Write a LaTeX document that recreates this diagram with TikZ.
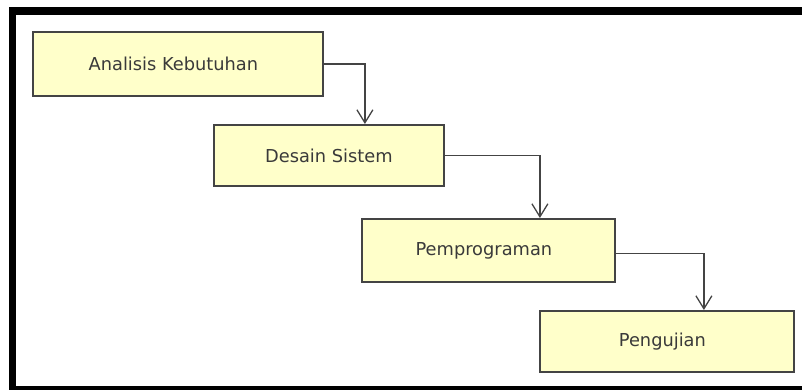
\documentclass[tikz,border=0pt]{standalone}
\usepackage{fontspec}
\setmainfont{DejaVu Sans}
\usetikzlibrary{arrows.meta}
\definecolor{boxfill}{HTML}{FFFFCA}
\definecolor{boxline}{HTML}{444444}
\definecolor{txt}{HTML}{3A3A3A}
\tikzset{
  stepbox/.style={draw=boxline, line width=1.8pt, fill=boxfill, inner sep=0pt,
    font=\fontsize{17.8}{20}\selectfont, text=txt, anchor=north west},
  conn/.style={draw=boxline, line width=1.4pt,
    -{Straight Barb[length=13pt, width=16pt, line width=1.3pt]}},
  frame/.style={fill=black}
}
\newcommand{\lft}[1]{#1\kern9pt\relax}
\begin{document}
\begin{tikzpicture}[x=1pt,y=-1pt]
\useasboundingbox (0,0) rectangle (802,390);
% frame
\path[frame] (9,7) rectangle (802,15);
\path[frame] (9,7) rectangle (16,390);
\path[frame] (9,386) rectangle (802,390);
% boxes
\node[stepbox, minimum width=290pt, minimum height=64pt] (a) at (32,31) {\lft{Analisis Kebutuhan}};
\node[stepbox, minimum width=230pt, minimum height=61pt] (b) at (213,124) {Desain Sistem};
\node[stepbox, minimum width=253pt, minimum height=63pt] (c) at (361,218) {\lft{Pemprograman}};
\node[stepbox, minimum width=254pt, minimum height=61pt] (d) at (539,310) {\lft{Pengujian}};
% connectors
\draw[conn] (a.east) -| ([xshift=36pt]b.north);
\draw[conn] (b.east) -| ([xshift=51.5pt]c.north);
\draw[conn] ([yshift=-3pt]c.east) -| ([xshift=37pt]d.north);
\end{tikzpicture}
\end{document}
